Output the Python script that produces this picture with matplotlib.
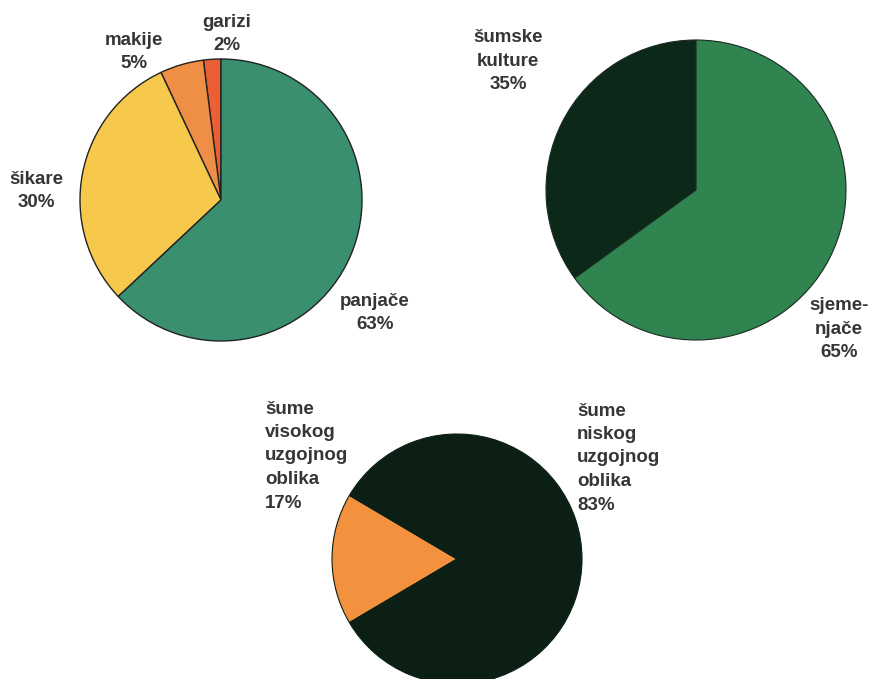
import matplotlib.pyplot as plt

# pie 1 - vrste degradiranih šuma
deg_labels = ["garizi\n2%", "makije\n5%", "šikare\n30%", "panjače\n63%"]
deg_values = [2, 5, 30, 63]
deg_colors = ["#ec5f35", "#ee8f45", "#f6c94c", "#3a8f6f"]

# pie 2 - visoke šume
vis_labels = ["šumske\nkulture\n35%", "sjeme-\nnjače\n65%"]
vis_values = [35, 65]
vis_colors = ["#0c2818", "#2f8450"]

# pie 3 - uzgojni oblik
uzg_labels = ["šume\nvisokog\nuzgojnog\noblika\n17%", "šume\nniskog\nuzgojnog\noblika\n83%"]
uzg_values = [17, 83]
uzg_colors = ["#f3913f", "#0b1f14"]

W, H = 877, 679
fig = plt.figure(figsize=(W / 100, H / 100), dpi=100)
ax = fig.add_axes([0, 0, 1, 1])

font = dict(family="Liberation Sans", fontweight="bold", fontsize=13.5,
            color="#363636", linespacing=1.5)

# (center in image pixels, radius, start angle)
ax.pie(deg_values, colors=deg_colors, startangle=90, counterclock=True,
       center=(221, H - 200), radius=141,
       wedgeprops=dict(edgecolor="#222222", linewidth=1.0))
ax.pie(vis_values, colors=vis_colors, startangle=90, counterclock=True,
       center=(696, H - 190), radius=150,
       wedgeprops=dict(edgecolor="#1a2a20", linewidth=0.8))
ax.pie(uzg_values, colors=uzg_colors, startangle=180 - 17 * 3.6 / 2, counterclock=True,
       center=(457, H - 559), radius=125,
       wedgeprops=dict(edgecolor="#0b1f14", linewidth=0.8))

# pie() resets the limits, so set them afterwards
ax.set_xlim(0, W)
ax.set_ylim(0, H)
ax.set_aspect("equal")
ax.axis("off")

# label positions (image pixels)
deg_pos = [(227, 34), (134, 52), (36, 191), (375, 313)]
for lab, (x, y) in zip(deg_labels, deg_pos):
    ax.text(x, H - y, lab, ha="center", va="center", **font)

vis_pos = [(508, 61), (839, 329)]
for lab, (x, y) in zip(vis_labels, vis_pos):
    ax.text(x, H - y, lab, ha="center", va="center", **font)

uzg_pos = [(265, 456), (577, 458)]
for lab, (x, y) in zip(uzg_labels, uzg_pos):
    ax.text(x, H - y, lab, ha="left", va="center", **font)

fig.savefig("out.png", dpi=100, facecolor="white")
